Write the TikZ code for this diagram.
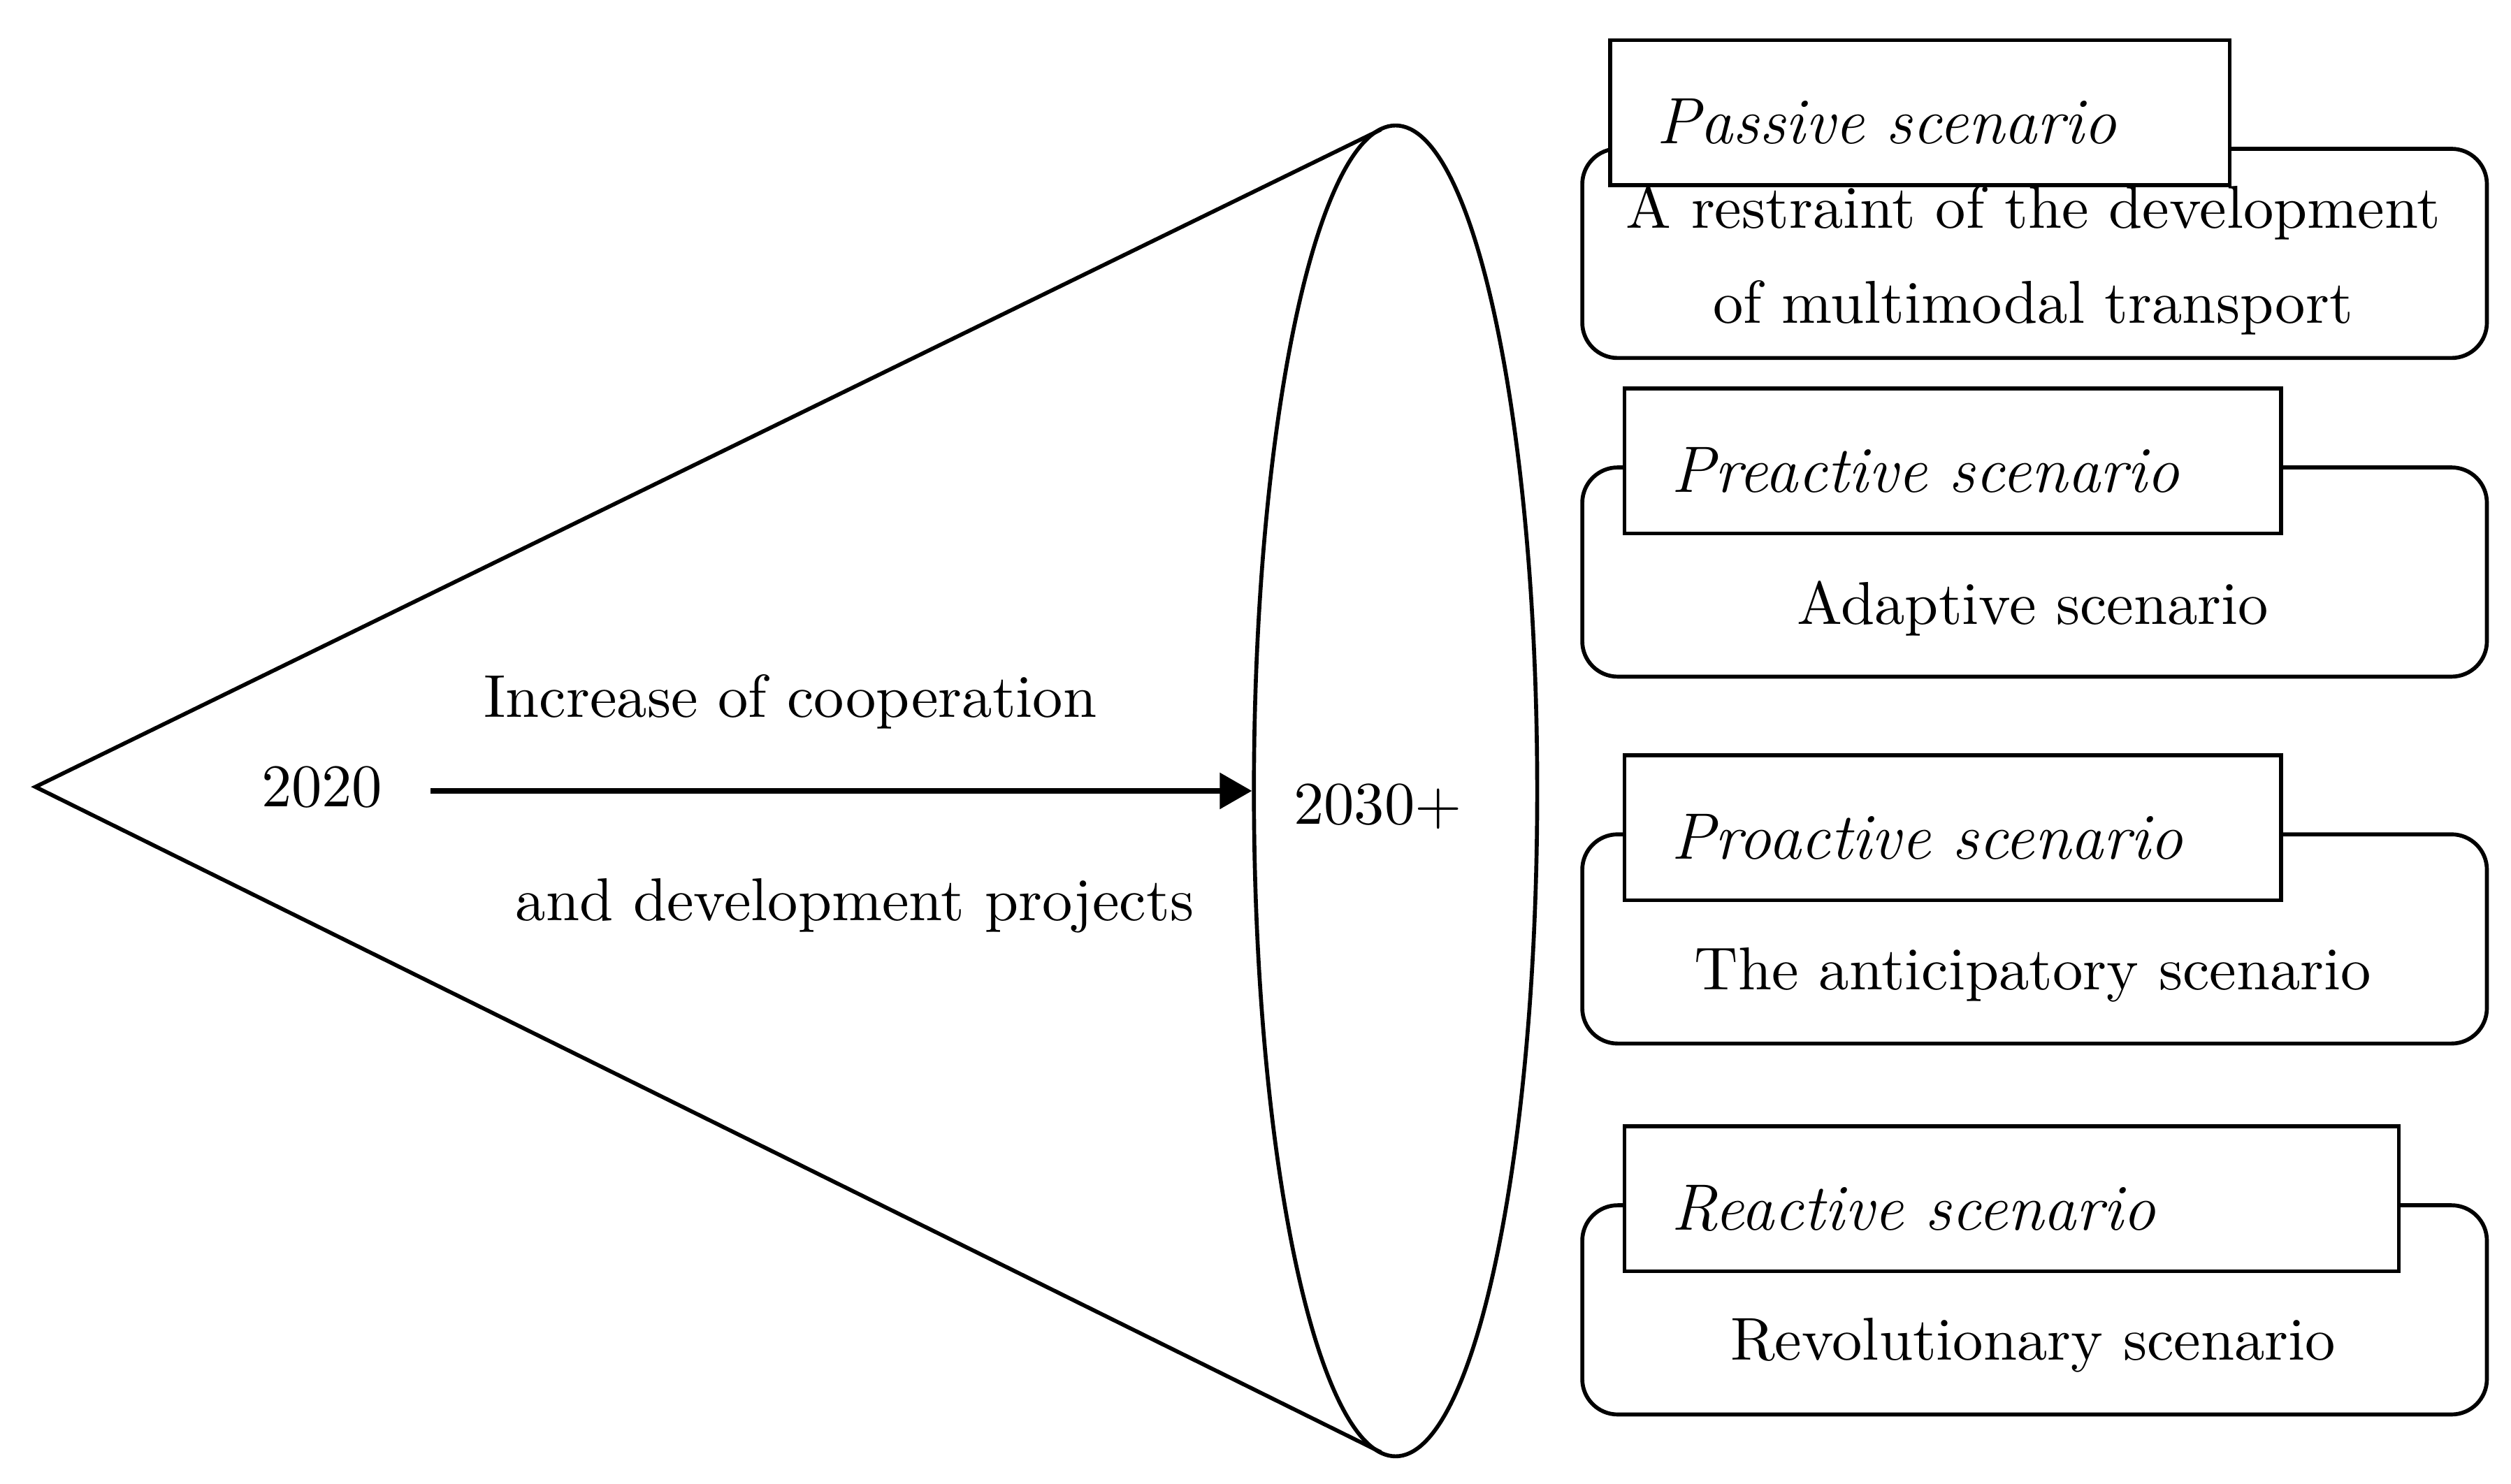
\documentclass[tikz,border=0pt]{standalone}
\usepackage{fontspec}
\usetikzlibrary{shapes.geometric,arrows.meta,positioning}

\begin{document}
\begin{tikzpicture}[
            every node/.style = {font = \fontsize{10.7}{16.8}\selectfont},
            line width = 0.7pt,
            outer/.style = {draw, rounded corners = 2.2mm, minimum width = 5.62cm, minimum height = 1.30cm},
            headbox/.style = {draw, fill = white, anchor = west, minimum height = 0.9cm, inner xsep = 0.29cm,
                              text height = 11pt, text depth = 0pt,
                              align = left, font = \fontsize{11.6}{13}\selectfont\itshape}
            ]
            \useasboundingbox (0,0) rectangle (15.6,9.22);
            % cone
            \coordinate (apex) at (0.22,4.33);
            \node[draw, ellipse, inner sep = 0, minimum width = 1.76cm, minimum height = 8.27cm] (future) at (8.67,4.305) {};
            \coordinate (toptan) at (8.58,8.415);
            \coordinate (bottan) at (8.58,0.195);
            \draw (toptan) -- (apex) -- (bottan);
            \node (now) at (2.00,4.33) {2020};
            \node (later) at (8.56,4.21) {2030+};
            \draw[line width = 0.9pt, -{Triangle[length = 2mm, width = 2.2mm]}] ([xshift = 1.7mm]now.east |- future.west) -- (future.west);
            \node (incr) at (4.91,4.86) {Increase of cooperation};
            \node (devp) at (5.31,3.59) {and development projects};
            % scenarios
            \node[outer] (passbody) at (12.64,7.645) {};
            \node[headbox, text width = 3.27cm] (passhead) at (9.99,8.52) {Passive scenario};
            \node[align = center] (passtxt) at (12.63,7.605) {A restraint of the development\\of multimodal transport};
            \node[outer] (preabody) at (12.64,5.665) {};
            \node[headbox, text width = 3.50cm] (preahead) at (10.08,6.355) {Preactive scenario};
            \node (preatxt) at (12.63,5.44) {Adaptive scenario};
            \node[outer] (proabody) at (12.64,3.385) {};
            \node[headbox, text width = 3.50cm] (proahead) at (10.08,4.075) {Proactive scenario};
            \node (proatxt) at (12.63,3.16) {The anticipatory scenario};
            \node[outer] (reacbody) at (12.64,1.08) {};
            \node[headbox, text width = 4.23cm] (reachead) at (10.08,1.77) {Reactive scenario};
            \node (reactxt) at (12.63,0.86) {Revolutionary scenario};
          \end{tikzpicture}
\end{document}
